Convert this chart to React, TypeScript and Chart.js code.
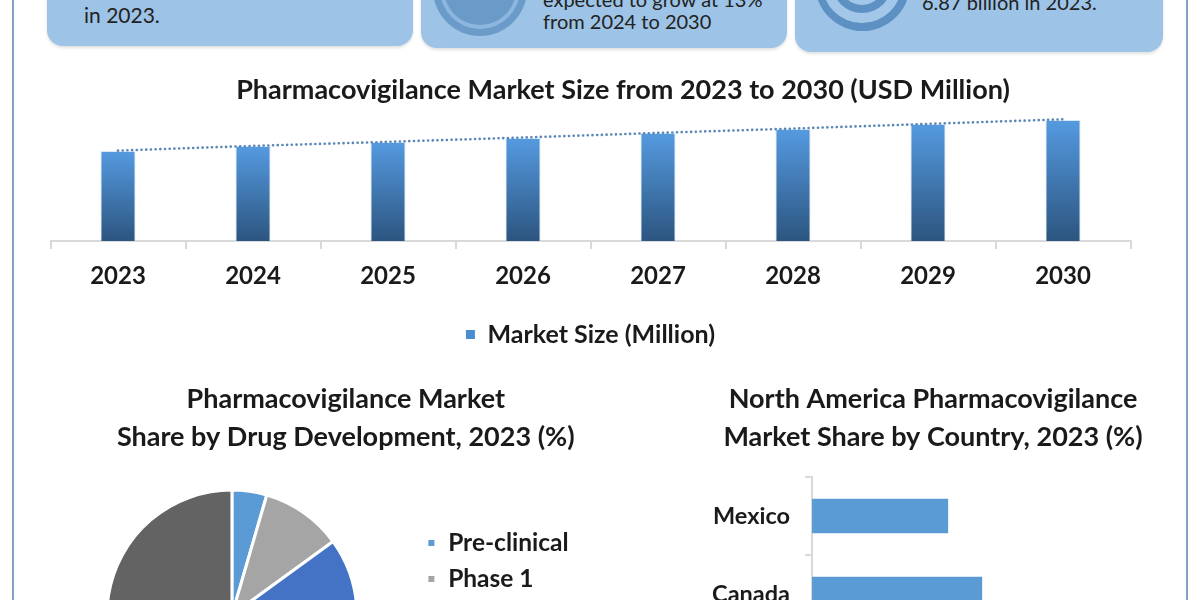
import React, { useEffect, useRef } from "react";
import { Chart, registerables } from "chart.js";
Chart.register(...registerables);

// ---------- data ----------
const years = ["2023", "2024", "2025", "2026", "2027", "2028", "2029", "2030"];
const marketSize = [6870, 7250, 7560, 7860, 8240, 8550, 8930, 9240];
const trendLine = [6900, 7260, 7570, 7900, 8250, 8580, 8940, 9290];

const phases = ["Pre-clinical", "Phase 1", "Phase 2", "Phase 3", "Phase 4"];
const phaseShare = [4.5, 10.5, 18, 22, 45];
const phaseColors = ["#5b9bd5", "#a5a5a5", "#4472c4", "#264478", "#636363"];

const countries = ["Mexico", "Canada", "US"];
const countryShare = [20, 25, 51];

const FONT = "Lato, 'Open Sans', sans-serif";
const TEXT = "#1a1a1a";

// invisible spacer scale used to shape the chart area without moving the title
const spacer = (position: string, size: number, weight = 0) => ({
  type: "linear",
  position,
  display: false,
  weight,
  afterFit: (s: any) => {
    if (position === "left" || position === "right") s.width = size;
    else s.height = size;
  },
});

function MarketBar() {
  const ref = useRef<HTMLCanvasElement>(null);
  useEffect(() => {
    const chart = new Chart(ref.current!, {
      data: {
        labels: years,
        datasets: [
          {
            type: "line",
            label: "Trend",
            data: trendLine,
            borderColor: "#5b87b8",
            borderWidth: 2.6,
            borderDash: [0.1, 4.6],
            borderCapStyle: "round",
            pointRadius: 0,
            fill: false,
            order: 0,
          } as any,
          {
            type: "bar",
            label: "Market Size (Million)",
            data: marketSize,
            backgroundColor: (c: any) => {
              const ch = c.chart;
              const area = ch.chartArea;
              if (!area || c.type !== "data") return "#4a8cd0";
              const y = ch.scales.y.getPixelForValue(c.raw);
              const g = ch.ctx.createLinearGradient(0, y, 0, area.bottom);
              g.addColorStop(0, "#559ae0");
              g.addColorStop(1, "#2c5580");
              return g;
            },
            borderColor: "rgba(190,215,240,0.6)",
            borderWidth: 1,
            barPercentage: 0.26,
            categoryPercentage: 1,
            order: 1,
          } as any,
        ],
      },
      options: {
        responsive: false,
        animation: false,
        layout: { padding: 0 },
        plugins: {
          title: {
            display: true,
            text: "Pharmacovigilance Market Size from 2023 to 2030 (USD Million)",
            color: TEXT,
            font: { family: FONT, size: 27, weight: "bold", lineHeight: 1.2 },
            padding: { top: 13.8, bottom: 3.8 },
          },
          legend: {
            position: "bottom",
            fullSize: false,
            labels: {
              color: TEXT,
              boxWidth: 9,
              boxHeight: 9,
              padding: 10,
              font: { family: FONT, size: 25, weight: "bold" },
              generateLabels: (ch: any) =>
                (Chart.defaults.plugins.legend.labels as any)
                  .generateLabels(ch)
                  .filter((l: any) => l.text !== "Trend")
                  .map((l: any) => ({ ...l, fillStyle: "#4a8cd0", strokeStyle: "#4a8cd0", lineWidth: 0 })),
            },
          },
          tooltip: { enabled: false },
        },
        scales: {
          x: {
            offset: true,
            grid: {
              display: true,
              drawOnChartArea: false,
              drawTicks: true,
              tickLength: 8,
              color: "#d9d9d9",
              lineWidth: 2,
              offset: true,
            },
            border: { display: true, color: "#d9d9d9", width: 2 },
            ticks: {
              color: TEXT,
              padding: 13,
              font: { family: FONT, size: 24, weight: "bold" },
            },
            afterFit: (s: any) => {
              s.height = 71;
            },
          },
          y: {
            display: false,
            min: 0,
            max: 10000,
            afterFit: (s: any) => {
              s.width = 50.5;
            },
          },
          yRight: spacer("right", 115.5) as any,
        },
      },
    });
    return () => chart.destroy();
  }, []);
  return (
    <canvas
      ref={ref}
      width={1246}
      height={297}
      style={{ position: "absolute", left: 0, top: 60, width: 1246, height: 297 }}
    />
  );
}

function PhasePie() {
  const ref = useRef<HTMLCanvasElement>(null);
  useEffect(() => {
    const chart = new Chart(ref.current!, {
      type: "pie",
      data: {
        labels: phases,
        datasets: [
          {
            data: phaseShare,
            backgroundColor: phaseColors,
            borderColor: "#ffffff",
            borderWidth: 3,
          },
        ],
      },
      options: {
        responsive: false,
        animation: false,
        radius: 125,
        layout: { padding: { left: 5.5, right: 0, top: 0, bottom: 0 } },
        scales: {
          padR: spacer("right", 64.4, 2000),
        },
        plugins: {
          title: {
            display: true,
            text: ["Pharmacovigilance Market", "Share by Drug Development, 2023 (%)"],
            color: TEXT,
            font: { family: FONT, size: 27, weight: "bold", lineHeight: 38 / 27 },
            padding: { top: 10, bottom: 14 },
          },
          legend: {
            position: "right",
            align: "center",
            fullSize: false,
            labels: {
              color: TEXT,
              boxWidth: 9,
              boxHeight: 9,
              padding: 11.5,
              font: { family: FONT, size: 24.5, weight: "bold" },
            },
          },
          tooltip: { enabled: false },
        },
      } as any,
    });
    return () => chart.destroy();
  }, []);
  return (
    <canvas
      ref={ref}
      width={600}
      height={390}
      style={{ position: "absolute", left: 43, top: 370, width: 600, height: 390 }}
    />
  );
}

function CountryBar() {
  const ref = useRef<HTMLCanvasElement>(null);
  useEffect(() => {
    const chart = new Chart(ref.current!, {
      type: "bar",
      data: {
        labels: countries,
        datasets: [
          {
            label: "Share",
            data: countryShare,
            backgroundColor: "#5b9bd5",
            barPercentage: 0.44,
            categoryPercentage: 1,
          },
        ],
      },
      options: {
        indexAxis: "y",
        responsive: false,
        animation: false,
        layout: { padding: 0 },
        plugins: {
          title: {
            display: true,
            text: ["North America Pharmacovigilance", "Market Share by Country, 2023 (%)"],
            color: TEXT,
            font: { family: FONT, size: 27, weight: "bold", lineHeight: 38 / 27 },
            padding: { top: 10, bottom: 21 },
          },
          legend: { display: false },
          tooltip: { enabled: false },
        },
        scales: {
          x: { display: false, min: 0, max: 54.5 },
          y: {
            offset: true,
            grid: {
              display: true,
              drawOnChartArea: false,
              drawTicks: true,
              tickLength: 7,
              color: "#d9d9d9",
              lineWidth: 2,
              offset: true,
            },
            border: { display: true, color: "#d9d9d9", width: 2 },
            ticks: {
              color: TEXT,
              padding: 15,
              font: { family: FONT, size: 23.5, weight: "bold" },
            },
            afterFit: (s: any) => {
              s.width = 129;
            },
          },
        },
      } as any,
    });
    return () => chart.destroy();
  }, []);
  return (
    <canvas
      ref={ref}
      width={500}
      height={370}
      style={{ position: "absolute", left: 683, top: 370, width: 500, height: 370 }}
    />
  );
}

const boxStyle = (left: number, width: number, bottom: number): React.CSSProperties => ({
  position: "absolute",
  left,
  width,
  top: -60,
  height: bottom + 60,
  background: "#9dc3e6",
  borderRadius: 16,
  boxShadow: "0 2px 3px rgba(0,0,0,0.12)",
});

const circle = (cx: number, cy: number, r: number, color: string): React.CSSProperties => ({
  position: "absolute",
  left: cx - r,
  top: cy - r,
  width: 2 * r,
  height: 2 * r,
  borderRadius: "50%",
  background: color,
});

const textStyle = (left: number, top: number, size: number, lh: number): React.CSSProperties => ({
  position: "absolute",
  left,
  top,
  fontSize: size,
  lineHeight: `${lh}px`,
  color: "#222",
  whiteSpace: "nowrap",
  fontFamily: FONT,
});

export default function App() {
  return (
    <div
      style={{
        position: "fixed",
        left: 0,
        top: 0,
        width: 1200,
        height: 600,
        overflow: "hidden",
        background: "#ffffff",
        fontFamily: FONT,
      }}
    >
      {/* side borders */}
      <div style={{ position: "absolute", left: 12, top: 0, width: 2, height: 600, background: "#7ea3c4" }} />
      <div style={{ position: "absolute", left: 1186, top: 0, width: 2, height: 600, background: "#7ea3c4" }} />

      {/* top info boxes */}
      <div style={boxStyle(47, 366, 46)} />
      <div style={boxStyle(421, 366, 48)} />
      <div style={boxStyle(795, 368, 52)} />

      <div style={circle(480, -11, 47, "#6b9bc9")} />
      <div style={circle(480, -11, 40, "#8db6de")} />
      <div style={circle(480, -11, 36, "#6a9ac7")} />

      <div style={circle(862, -17, 47.5, "#5d91c4")} />
      <div style={circle(862, -17, 40, "#a3c7e8")} />
      <div style={circle(862, -17, 30, "#5d91c4")} />
      <div style={circle(862, -17, 22, "#a3c7e8")} />

      <div style={textStyle(84, -26, 21, 27)}>
        Pharmacovigilance Market
        <br />
        in 2023.
      </div>
      <div style={textStyle(543, -11.7, 20, 22)}>
        expected to grow at 13%
        <br />
        from 2024 to 2030
      </div>
      <div style={textStyle(922, -30.7, 20, 22)}>
        market was valued at USD
        <br />
        6.87 billion in 2023.
      </div>

      <MarketBar />
      <PhasePie />
      <CountryBar />
    </div>
  );
}
